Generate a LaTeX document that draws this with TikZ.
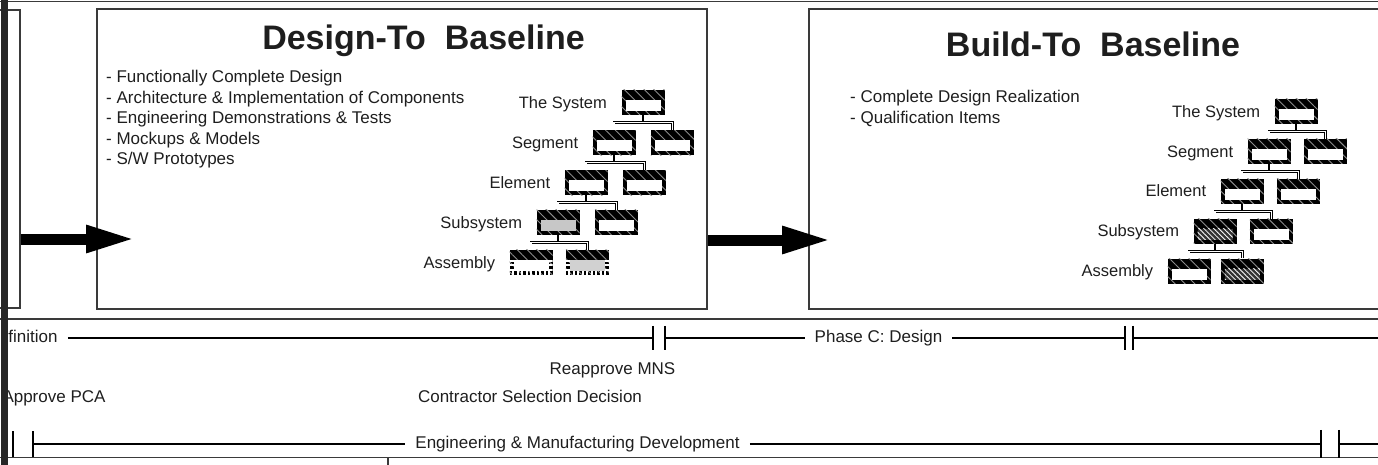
\documentclass[tikz,border=0pt]{standalone}
\usepackage{fontspec}
\setmainfont{Liberation Sans}
\usepackage{xcolor}
\definecolor{scanInk}{HTML}{1e1e1e}
\definecolor{scanRule}{HTML}{3a3a3a}
\usetikzlibrary{positioning,calc,arrows.meta,patterns.meta}
\tikzset{panel/.style={draw=scanRule, line width=1.5pt, inner sep=0pt}}
\tikzset{hatch/.style={preaction={fill=black}, pattern={Lines[angle=-45,distance=7pt,line width=0.9pt]}, pattern color=black!45}}
\tikzset{unit/.style={hatch, rectangle, inner sep=0pt, minimum width=43pt, minimum height=25pt,
  path picture={\path[#1] ([shift={(4pt,4pt)}]path picture bounding box.south west) rectangle ([shift={(-4pt,-10pt)}]path picture bounding box.north east);}},
  unit/.default={fill=white}}
\tikzset{unit dark/.style={unit={fill=black!80, postaction={pattern={Lines[angle=-45,distance=3.5pt,line width=0.8pt]}, pattern color=white}}}}
\tikzset{unit open/.style={unit,
  path picture={\path[#1] ([shift={(4pt,4pt)}]path picture bounding box.south west) rectangle ([shift={(-4pt,-10pt)}]path picture bounding box.north east);
    \draw[white, line width=4pt, dash pattern=on 2pt off 2.5pt] ([shift={(2pt,-10pt)}]path picture bounding box.north west) -- ([shift={(2pt,2pt)}]path picture bounding box.south west) -- ([shift={(-2pt,2pt)}]path picture bounding box.south east) -- ([shift={(-2pt,-10pt)}]path picture bounding box.north east);}},
  unit open/.default={fill=white}}
\tikzset{stem/.style={draw=black, line width=1.6pt}}
\tikzset{bar/.style={draw=black, line width=0.8pt, double=white, double distance=1.2pt}}
\tikzset{title/.style={font=\fontsize{34}{40}\selectfont\bfseries, text=scanInk, inner sep=0pt, anchor=base}}
\tikzset{item/.style={font=\fontsize{17}{20}\selectfont, text=scanInk, inner sep=0pt, anchor=base west}}
\tikzset{level/.style={font=\fontsize{16.5}{20}\selectfont, text=scanInk, inner sep=0pt, text height=11.8pt, text depth=3.5pt, yshift=-1.5pt}}
\tikzset{stamp/.style={font=\fontsize{17}{20}\selectfont, text=scanInk, inner ysep=0pt, inner xsep=10pt, text height=12.2pt, text depth=3.6pt}}
\tikzset{track/.style={draw=black, line width=1.8pt}}
\tikzset{tickbar/.style={draw=black, line width=2.2pt}}
\tikzset{split/.style={minimum width=#1, minimum height=24pt, inner sep=0pt,
  append after command={(\tikzlastnode.north west) edge[tickbar] (\tikzlastnode.south west) (\tikzlastnode.north east) edge[tickbar] (\tikzlastnode.south east)}}}
\tikzset{push/.style={draw=black, line width=11pt, -{Triangle[length=50pt,width=25pt]}}}
\tikzset{rule/.style={draw=scanRule, line width=1.2pt}}
\newcommand{\branch}[3]{%
  \draw[stem] (#1.south) -- ($(#1.south)!.5!(#1.south |- #2.north)$);
  \draw[bar] (#2.north) |- ($(#1.south)!.5!(#3.north)$) -| (#3.north);}

\begin{document}
\begin{tikzpicture}[x=1pt, y=-1pt]
\useasboundingbox (0,0) rectangle (1378,465);
\draw[rule] (0,1.5) -- (1378,1.5);
\node[panel, minimum width=120pt, minimum height=298pt] (prev) at (-40,159) {};
\node[panel, minimum width=610pt, minimum height=300pt] (design) at (402,159) {};
\node[panel, minimum width=620pt, minimum height=300pt] (build) at (1119,159) {};
\draw[rule, line width=1.6pt] (0,319) -- (1378,319);
\draw[rule] (0,457.5) -- (1378,457.5);
\draw[rule] (388,458) -- (388,465);

\node[title] (dTitle) at (423.5,50) {Design-To~~Baseline};
\node[item] (dA1) at (106,83) {- Functionally Complete Design};
\node[item] (dA2) at ([yshift=-20.5pt]dA1.base west) {- Architecture \& Implementation of Components};
\node[item] (dA3) at ([yshift=-20.5pt]dA2.base west) {- Engineering Demonstrations \& Tests};
\node[item] (dA4) at ([yshift=-20.5pt]dA3.base west) {- Mockups \& Models};
\node[item] (dA5) at ([yshift=-20.5pt]dA4.base west) {- S/W Prototypes};

\node[unit] (sysA) at (643,102.5) {};
\node[unit] (segA1) [below=14.5pt of sysA, xshift=-29pt] {};
\node[unit] (segA2) [right=15pt of segA1] {};
\node[unit] (eleA1) [below=14.5pt of segA1, xshift=-28pt] {};
\node[unit] (eleA2) [right=15pt of eleA1] {};
\node[unit={fill=black!22}] (subA1) [below=14.5pt of eleA1, xshift=-28pt] {};
\node[unit] (subA2) [right=15pt of subA1] {};
\node[unit open] (asmA1) [below=14.5pt of subA1, xshift=-27pt] {};
\node[unit open={fill=black!18}] (asmA2) [right=13pt of asmA1] {};
\node[level, left=14pt of sysA] {The System};
\node[level, left=14pt of segA1] {Segment};
\node[level, left=14pt of eleA1] {Element};
\node[level, left=14pt of subA1] {Subsystem};
\node[level, left=14pt of asmA1] {Assembly};
\branch{sysA}{segA1}{segA2}
\branch{segA1}{eleA1}{eleA2}
\branch{eleA1}{subA1}{subA2}
\branch{subA1}{asmA1}{asmA2}

\node[title] (bTitle) at (1093,57) {Build-To~~Baseline};
\node[item] (bA1) at (850,103) {- Complete Design Realization};
\node[item] (bA2) at ([yshift=-20.5pt]bA1.base west) {- Qualification Items};

\node[unit] (sysB) at (1296,111.5) {};
\node[unit] (segB1) [below=14.5pt of sysB, xshift=-27pt] {};
\node[unit] (segB2) [right=13pt of segB1] {};
\node[unit] (eleB1) [below=14.5pt of segB1, xshift=-27pt] {};
\node[unit] (eleB2) [right=13pt of eleB1] {};
\node[unit dark] (subB1) [below=14.5pt of eleB1, xshift=-27pt] {};
\node[unit] (subB2) [right=13pt of subB1] {};
\node[unit] (asmB1) [below=14.5pt of subB1, xshift=-26pt] {};
\node[unit dark] (asmB2) [right=10pt of asmB1] {};
\node[level, left=14pt of sysB] {The System};
\node[level, left=14pt of segB1] {Segment};
\node[level, left=14pt of eleB1] {Element};
\node[level, left=14pt of subB1] {Subsystem};
\node[level, left=14pt of asmB1] {Assembly};
\branch{sysB}{segB1}{segB2}
\branch{segB1}{eleB1}{eleB2}
\branch{eleB1}{subB1}{subB2}
\branch{subB1}{asmB1}{asmB2}

\coordinate (tipA) at (136,239);
\coordinate (tipB) at (832,240);
\draw[push] (prev.east |- tipA) -- (tipA);
\draw[push] (design.east |- tipB) -- (tipB);

\node[stamp] (defn) at (33,338) {finition};
\node[split=12pt] (mns) at (659,338) {};
\node[stamp] (phaseC) at (878.5,338) {Phase C: Design};
\node[split=8pt] (cdr) at (1129,338) {};
\coordinate (rowAend) at (1378,338);
\draw[track] (defn.east) -- (mns.west);
\draw[track] (mns.east) -- (phaseC.west);
\draw[track] (phaseC.east) -- (cdr.west);
\draw[track] (cdr.east) -- (rowAend);

\node[stamp] (remns) at (612.5,370) {Reapprove MNS};
\node[stamp] (pca) at (54,398) {Approve PCA};
\node[stamp] (csd) at (530,398) {Contractor Selection Decision};

\node[split=20pt, minimum height=25pt] (pcaBrk) at (23,444) {};
\node[stamp] (emd) at (577.5,444) {Engineering \& Manufacturing Development};
\node[split=18pt, minimum height=28pt] (endBrk) at (1330,444) {};
\coordinate (rowBend) at (1378,444);
\draw[track] (pcaBrk.east) -- (emd.west);
\draw[track] (emd.east) -- (endBrk.west);
\draw[track] (endBrk.east) -- (rowBend);

\fill[black!85] (1,0) rectangle (8,465);
\end{tikzpicture}
\end{document}
